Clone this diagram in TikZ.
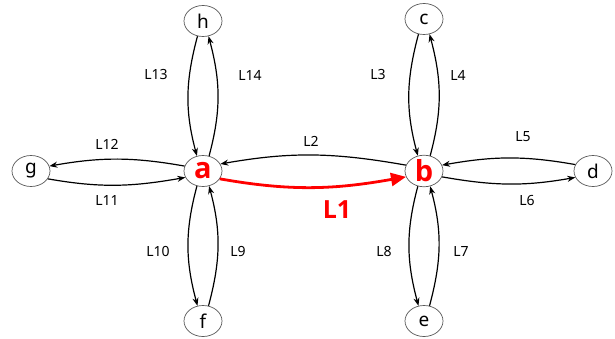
\documentclass[tikz,border=0pt]{standalone}
\usepackage{fontspec}
\setmainfont{Noto Sans}
\newfontfamily\hubfont{Open Sans}
\usetikzlibrary{shapes.geometric,arrows.meta}
\begin{document}
\begin{tikzpicture}[x=1pt,y=1pt,
  vtx/.style={ellipse,draw=black!65,line width=0.7pt,minimum width=38pt,minimum height=31pt,inner sep=0pt,font=\fontsize{19}{19}\selectfont},
  hub/.style={vtx,text=red,font=\hubfont\bfseries\fontsize{29}{29}\selectfont},
  edge/.style={line width=1.2pt,-{Stealth[length=8pt,width=6pt]}},
  redge/.style={red,line width=2.8pt,-{Triangle[length=15pt,width=13pt]}},
  lbl/.style={font=\fontsize{14}{14}\selectfont},
  rlbl/.style={text=red,font=\hubfont\bfseries\fontsize{25}{25}\selectfont}]
\useasboundingbox (0,0) rectangle (615,338);
% nodes
\node[vtx] (h) at (203,317) {h};
\node[hub] (a) at (203,167) {a};
\node[vtx] (f) at (203,17) {f};
\node[vtx] (g) at (31,167) {g};
\node[hub] (b) at (424,167) {b};
\node[vtx] (c) at (424,319) {c};
\node[vtx] (d) at (593,167) {d};
\node[vtx] (e) at (424,17) {e};
% vertical pairs: left goes down, right goes up
\draw[edge] (h.250) to[out=255,in=105] (a.112);
\draw[edge] (a.68) to[out=75,in=-75] (h.290);
\draw[edge] (a.248) to[out=255,in=105] (f.110);
\draw[edge] (f.70) to[out=75,in=-75] (a.292);
\draw[edge] (c.250) to[out=255,in=105] (b.112);
\draw[edge] (b.68) to[out=75,in=-75] (c.290);
\draw[edge] (b.248) to[out=255,in=105] (e.110);
\draw[edge] (e.70) to[out=75,in=-75] (b.292);
% horizontal pairs: top goes right-to-left, bottom left-to-right
\draw[edge] (a.165) to[out=170,in=10] (g.15);
\draw[edge] (g.-25) to[out=-10,in=190] (a.200);
\draw[edge] (d.160) to[out=170,in=10] (b.18);
\draw[edge] (b.-18) to[out=-10,in=190] (d.200);
\draw[edge] (b.162) to[out=170,in=10] (a.22);
\draw[redge] (a.-25) to[out=-10,in=190] (b.198);
% labels
\node[lbl] (l13) at (156,263) {L13};
\node[lbl] (l14) at (250,263) {L14};
\node[lbl] (l3) at (378,263) {L3};
\node[lbl] (l4) at (458,263) {L4};
\node[lbl] (l12) at (107,194) {L12};
\node[lbl] (l11) at (107,137) {L11};
\node[lbl] (l2) at (311,197) {L2};
\node[lbl] (l5) at (523,201) {L5};
\node[lbl] (l6) at (527,137) {L6};
\node[lbl] (l10) at (158,87) {L10};
\node[lbl] (l9) at (238,87) {L9};
\node[lbl] (l8) at (384,87) {L8};
\node[lbl] (l7) at (461,87) {L7};
\node[rlbl] (l1) at (337,128) {L1};
\end{tikzpicture}
\end{document}
